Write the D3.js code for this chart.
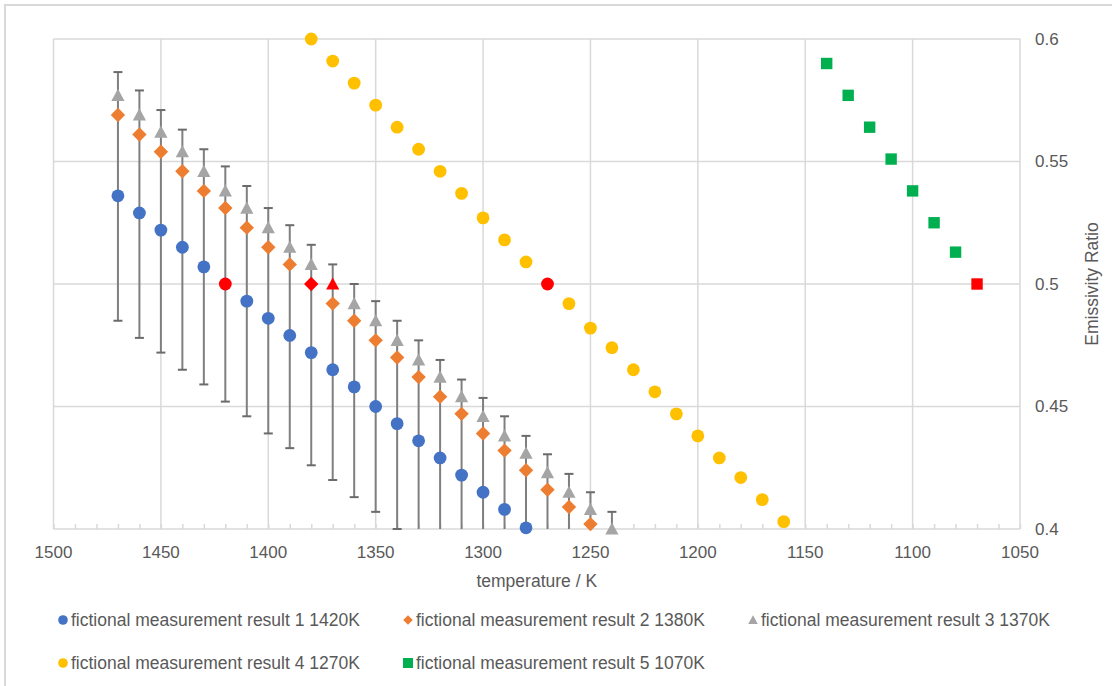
<!DOCTYPE html>
<html>
<head>
<meta charset="utf-8">
<script src="https://cdn.jsdelivr.net/npm/d3@7"></script>
<style>
  body { margin: 0; background: #fff; }
  svg text { font-family: "Liberation Sans", Arial, sans-serif; fill: #595959; }
</style>
</head>
<body>
<svg id="chart" width="1112" height="686"></svg>
<script>
// temperatures per series (K)
var temps1 = [1470, 1460, 1450, 1440, 1430, 1420, 1410, 1400, 1390, 1380, 1370, 1360, 1350, 1340, 1330, 1320, 1310, 1300, 1290, 1280];
var temps2 = [1470, 1460, 1450, 1440, 1430, 1420, 1410, 1400, 1390, 1380, 1370, 1360, 1350, 1340, 1330, 1320, 1310, 1300, 1290, 1280, 1270, 1260, 1250];
var temps3 = [1470, 1460, 1450, 1440, 1430, 1420, 1410, 1400, 1390, 1380, 1370, 1360, 1350, 1340, 1330, 1320, 1310, 1300, 1290, 1280, 1270, 1260, 1250, 1240];
var temps4 = [1380, 1370, 1360, 1350, 1340, 1330, 1320, 1310, 1300, 1290, 1280, 1270, 1260, 1250, 1240, 1230, 1220, 1210, 1200, 1190, 1180, 1170, 1160];
var temps5 = [1140, 1130, 1120, 1110, 1100, 1090, 1080, 1070];

// emissivity ratio values
var ratio1 = [0.536, 0.529, 0.522, 0.515, 0.507, 0.500, 0.493, 0.486, 0.479, 0.472, 0.465, 0.458, 0.450, 0.443, 0.436, 0.429, 0.422, 0.415, 0.408, 0.4005];
var ratio2 = [0.569, 0.561, 0.554, 0.546, 0.538, 0.531, 0.523, 0.515, 0.508, 0.500, 0.492, 0.485, 0.477, 0.470, 0.462, 0.454, 0.447, 0.439, 0.432, 0.424, 0.416, 0.409, 0.402];
var ratio3 = [0.577, 0.569, 0.562, 0.554, 0.546, 0.538, 0.531, 0.523, 0.515, 0.508, 0.500, 0.492, 0.485, 0.477, 0.469, 0.462, 0.454, 0.446, 0.438, 0.431, 0.423, 0.415, 0.408, 0.400];
var ratio4 = [0.600, 0.591, 0.582, 0.573, 0.564, 0.555, 0.546, 0.537, 0.527, 0.518, 0.509, 0.500, 0.492, 0.482, 0.474, 0.465, 0.456, 0.447, 0.438, 0.429, 0.421, 0.412, 0.403];
var ratio5 = [0.590, 0.577, 0.564, 0.551, 0.538, 0.525, 0.513, 0.500];

// error bar ends, attached to series 3 temperatures
var errHigh = [0.5865, 0.579, 0.571, 0.563, 0.555, 0.548, 0.540, 0.531, 0.524, 0.516, 0.508, 0.500, 0.493, 0.485, 0.477, 0.469, 0.461, 0.4535, 0.446, 0.438, 0.4305, 0.4225, 0.415, 0.407];
var errLow = [0.485, 0.478, 0.472, 0.465, 0.459, 0.452, 0.446, 0.439, 0.433, 0.426, 0.420, 0.413, 0.407, 0.400, 0.394, 0.387, 0.381, 0.374, 0.368, 0.361, 0.355, 0.348, 0.342, 0.335];

// the highlighted (red) point of each series
var highlight = [1420, 1380, 1370, 1270, 1070];

var seriesNames = [
  "fictional measurement result 1 1420K",
  "fictional measurement result 2 1380K",
  "fictional measurement result 3 1370K",
  "fictional measurement result 4 1270K",
  "fictional measurement result 5 1070K"
];
var seriesColors = ["#4472C4", "#ED7D31", "#A5A5A5", "#FFC000", "#00B050"];
var seriesShapes = ["circle", "diamond", "triangle", "circle", "square"];

var xTicks = [1500, 1450, 1400, 1350, 1300, 1250, 1200, 1150, 1100, 1050];
var yTicks = [0.4, 0.45, 0.5, 0.55, 0.6];

var series = [
  {t: temps1, v: ratio1},
  {t: temps2, v: ratio2},
  {t: temps3, v: ratio3},
  {t: temps4, v: ratio4},
  {t: temps5, v: ratio5}
];

var svg = d3.select("#chart");
var gridColor = "#d9d9d9";

var x = d3.scaleLinear().domain([1500, 1050]).range([53.5, 1020]);
var y = d3.scaleLinear().domain([0.4, 0.6]).range([529, 39]);

// outer chart border
svg.append("rect")
  .attr("x", 5).attr("y", 5)
  .attr("width", 1130).attr("height", 700)
  .attr("fill", "none")
  .attr("stroke", gridColor)
  .attr("stroke-width", 2);

// shape path generator, s = half size
function shapePath(shape, s) {
  if (shape == "circle") {
    return "M" + (-s) + ",0A" + s + "," + s + " 0 1,0 " + s + ",0A" + s + "," + s + " 0 1,0 " + (-s) + ",0Z";
  } else if (shape == "diamond") {
    return "M0," + (-s) + "L" + s + ",0L0," + s + "L" + (-s) + ",0Z";
  } else if (shape == "triangle") {
    return "M0," + (-s) + "L" + s + "," + (s * 0.85) + "L" + (-s) + "," + (s * 0.85) + "Z";
  }
  return "M" + (-s) + "," + (-s) + "H" + s + "V" + s + "H" + (-s) + "Z";
}
var shapeSize = {circle: 6.4, diamond: 7.2, triangle: 6.6, square: 5.7};

// gridlines
var grid = svg.append("g").attr("class", "grid");
grid.selectAll(".vgrid")
  .data(xTicks)
  .enter().append("line")
  .attr("x1", d => x(d)).attr("x2", d => x(d))
  .attr("y1", y(0.6)).attr("y2", y(0.4))
  .attr("stroke", gridColor).attr("stroke-width", 1.5);
grid.selectAll(".hgrid")
  .data(yTicks)
  .enter().append("line")
  .attr("x1", x(1500)).attr("x2", x(1050))
  .attr("y1", d => y(d)).attr("y2", d => y(d))
  .attr("stroke", gridColor).attr("stroke-width", 1.5);

// x axis with minor ticks pointing up
var xAxis = d3.axisBottom(x)
  .tickValues(d3.range(1500, 1049, -10))
  .tickSize(-5)
  .tickFormat("");
var xg = svg.append("g")
  .attr("transform", "translate(0," + y(0.4) + ")")
  .call(xAxis);
xg.select(".domain").remove();
xg.selectAll("line").attr("stroke", gridColor).attr("stroke-width", 1.5);

// x tick labels
svg.selectAll(".xlabel")
  .data(xTicks)
  .enter().append("text")
  .attr("x", d => x(d))
  .attr("y", 552)
  .attr("text-anchor", "middle")
  .attr("dominant-baseline", "central")
  .style("font-size", "17px")
  .text(d => d);

// y tick labels (right side)
svg.selectAll(".ylabel")
  .data(yTicks)
  .enter().append("text")
  .attr("x", 1035)
  .attr("y", d => y(d))
  .attr("dominant-baseline", "central")
  .style("font-size", "17px")
  .text(d => d3.format("")(+d.toFixed(2)));

// axis titles
svg.append("text")
  .attr("x", (x(1500) + x(1050)) / 2)
  .attr("y", 581)
  .attr("text-anchor", "middle")
  .attr("dominant-baseline", "central")
  .style("font-size", "17.5px")
  .text("temperature / K");

svg.append("text")
  .attr("transform", "translate(1092," + 284 + ") rotate(-90)")
  .attr("text-anchor", "middle")
  .attr("dominant-baseline", "central")
  .style("font-size", "17.5px")
  .text("Emissivity Ratio");

// error bars (drawn under the markers)
var errData = temps3.map((t, i) => ({t: t, hi: errHigh[i], lo: errLow[i]}));
var eg = svg.append("g").attr("class", "errorbars");
eg.selectAll(".ebar")
  .data(errData)
  .enter().append("line")
  .attr("x1", d => x(d.t)).attr("x2", d => x(d.t))
  .attr("y1", d => y(Math.min(d.hi, 0.6)))
  .attr("y2", d => y(Math.max(d.lo, 0.4)))
  .attr("stroke", "#7f7f7f").attr("stroke-width", 2);
eg.selectAll(".capHi")
  .data(errData.filter(d => d.hi <= 0.6))
  .enter().append("line")
  .attr("x1", d => x(d.t) - 4.5).attr("x2", d => x(d.t) + 4.5)
  .attr("y1", d => y(d.hi)).attr("y2", d => y(d.hi))
  .attr("stroke", "#6b6b6b").attr("stroke-width", 2);
eg.selectAll(".capLo")
  .data(errData.filter(d => d.lo >= 0.4))
  .enter().append("line")
  .attr("x1", d => x(d.t) - 4.5).attr("x2", d => x(d.t) + 4.5)
  .attr("y1", d => y(d.lo)).attr("y2", d => y(d.lo))
  .attr("stroke", "#6b6b6b").attr("stroke-width", 2);

// markers
series.forEach((s, i) => {
  var pts = s.t.map((t, j) => ({t: t, v: s.v[j]}));
  svg.append("g")
    .selectAll("path")
    .data(pts)
    .enter().append("path")
    .attr("d", shapePath(seriesShapes[i], shapeSize[seriesShapes[i]]))
    .attr("transform", d => "translate(" + x(d.t) + "," + y(d.v) + ")")
    .attr("fill", d => d.t == highlight[i] ? "#FF0000" : seriesColors[i]);
});

// legend: three columns, two rows
var legendCols = [63, 408, 753];
var legendRows = [620, 663];
var lg = svg.append("g").attr("class", "legend");
seriesNames.forEach((name, i) => {
  var lx = legendCols[i % 3], ly = legendRows[Math.floor(i / 3)];
  var shape = seriesShapes[i];
  lg.append("path")
    .attr("d", shapePath(shape, shape == "square" ? 5 : 4.8))
    .attr("transform", "translate(" + lx + "," + ly + ")")
    .attr("fill", seriesColors[i]);
  lg.append("text")
    .attr("x", lx + 8)
    .attr("y", ly)
    .attr("dominant-baseline", "central")
    .style("font-size", "17.5px")
    .text(name);
});
</script>
</body>
</html>
